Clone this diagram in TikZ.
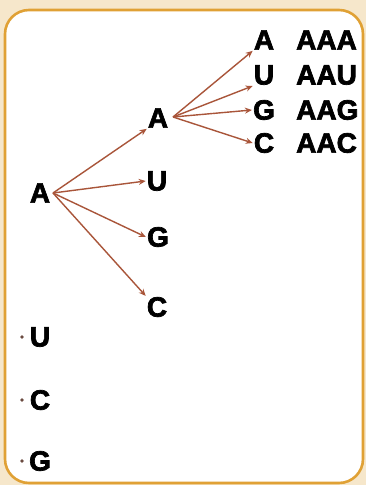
\documentclass[tikz,border=0pt]{standalone}
\usepackage{fontspec}
\setmainfont{Liberation Sans}[BoldFeatures={FakeBold=2.5}]
\usetikzlibrary{arrows.meta}
\definecolor{bgc}{HTML}{F6E7CB}
\definecolor{bord}{HTML}{E0A135}
\definecolor{arr}{HTML}{A9553A}
\definecolor{dotc}{HTML}{6A4A40}
\tikzset{
  lt/.style={font=\fontsize{28}{28}\selectfont\bfseries, inner sep=1pt, text=black},
  con/.style={draw=arr, line width=1.4pt, -{Stealth[length=7pt,width=6pt]}},
  dotm/.style={circle, fill=dotc, inner sep=0pt, minimum size=3.6pt}
}
\begin{document}
\begin{tikzpicture}[x=1pt,y=-1pt]
\useasboundingbox (0,0) rectangle (366,485);
\fill[bgc] (0,0) rectangle (366,485);
\draw[bord, line width=2.6pt, fill=white, rounded corners=24pt] (5,10) rectangle (363,483);
% root
\node[lt] (r) at (40,193) {A};
% level 1
\node[lt] (a1) at (158,118) {A};
\node[lt] (u1) at (157,181) {U};
\node[lt] (g1) at (158,237) {G};
\node[lt] (c1) at (157,307) {C};
% level 2
\node[lt] (a2) at (264,40) {A};
\node[lt] (u2) at (264,75) {U};
\node[lt] (g2) at (264,110) {G};
\node[lt] (c2) at (264,143) {C};
\node[lt, anchor=west] (aaa) at (295,40) {AAA};
\node[lt, anchor=west] (aau) at (295,75) {AAU};
\node[lt, anchor=west] (aag) at (295,110) {AAG};
\node[lt, anchor=west] (aac) at (295,143) {AAC};
% connectors
\coordinate (rs) at (53,193);
\coordinate (as) at (173,117);
\draw[con] (rs) -- (a1.south west);
\draw[con] (rs) -- (u1.west);
\draw[con] (rs) -- (g1.west);
\draw[con] (rs) -- (c1.north west);
\draw[con] (as) -- (a2.south west);
\draw[con] (as) -- (u2.south west);
\draw[con] (as) -- (g2.west);
\draw[con] (as) -- (c2.west);
% list
\node[lt] (lu) at (40,337) {U};
\node[lt] (lc) at (40,400) {C};
\node[lt] (lg) at (40,461) {G};
\node[dotm] (du) at (22,337) {};
\node[dotm] (dc) at (22,400) {};
\node[dotm] (dg) at (22,461) {};
\end{tikzpicture}
\end{document}
